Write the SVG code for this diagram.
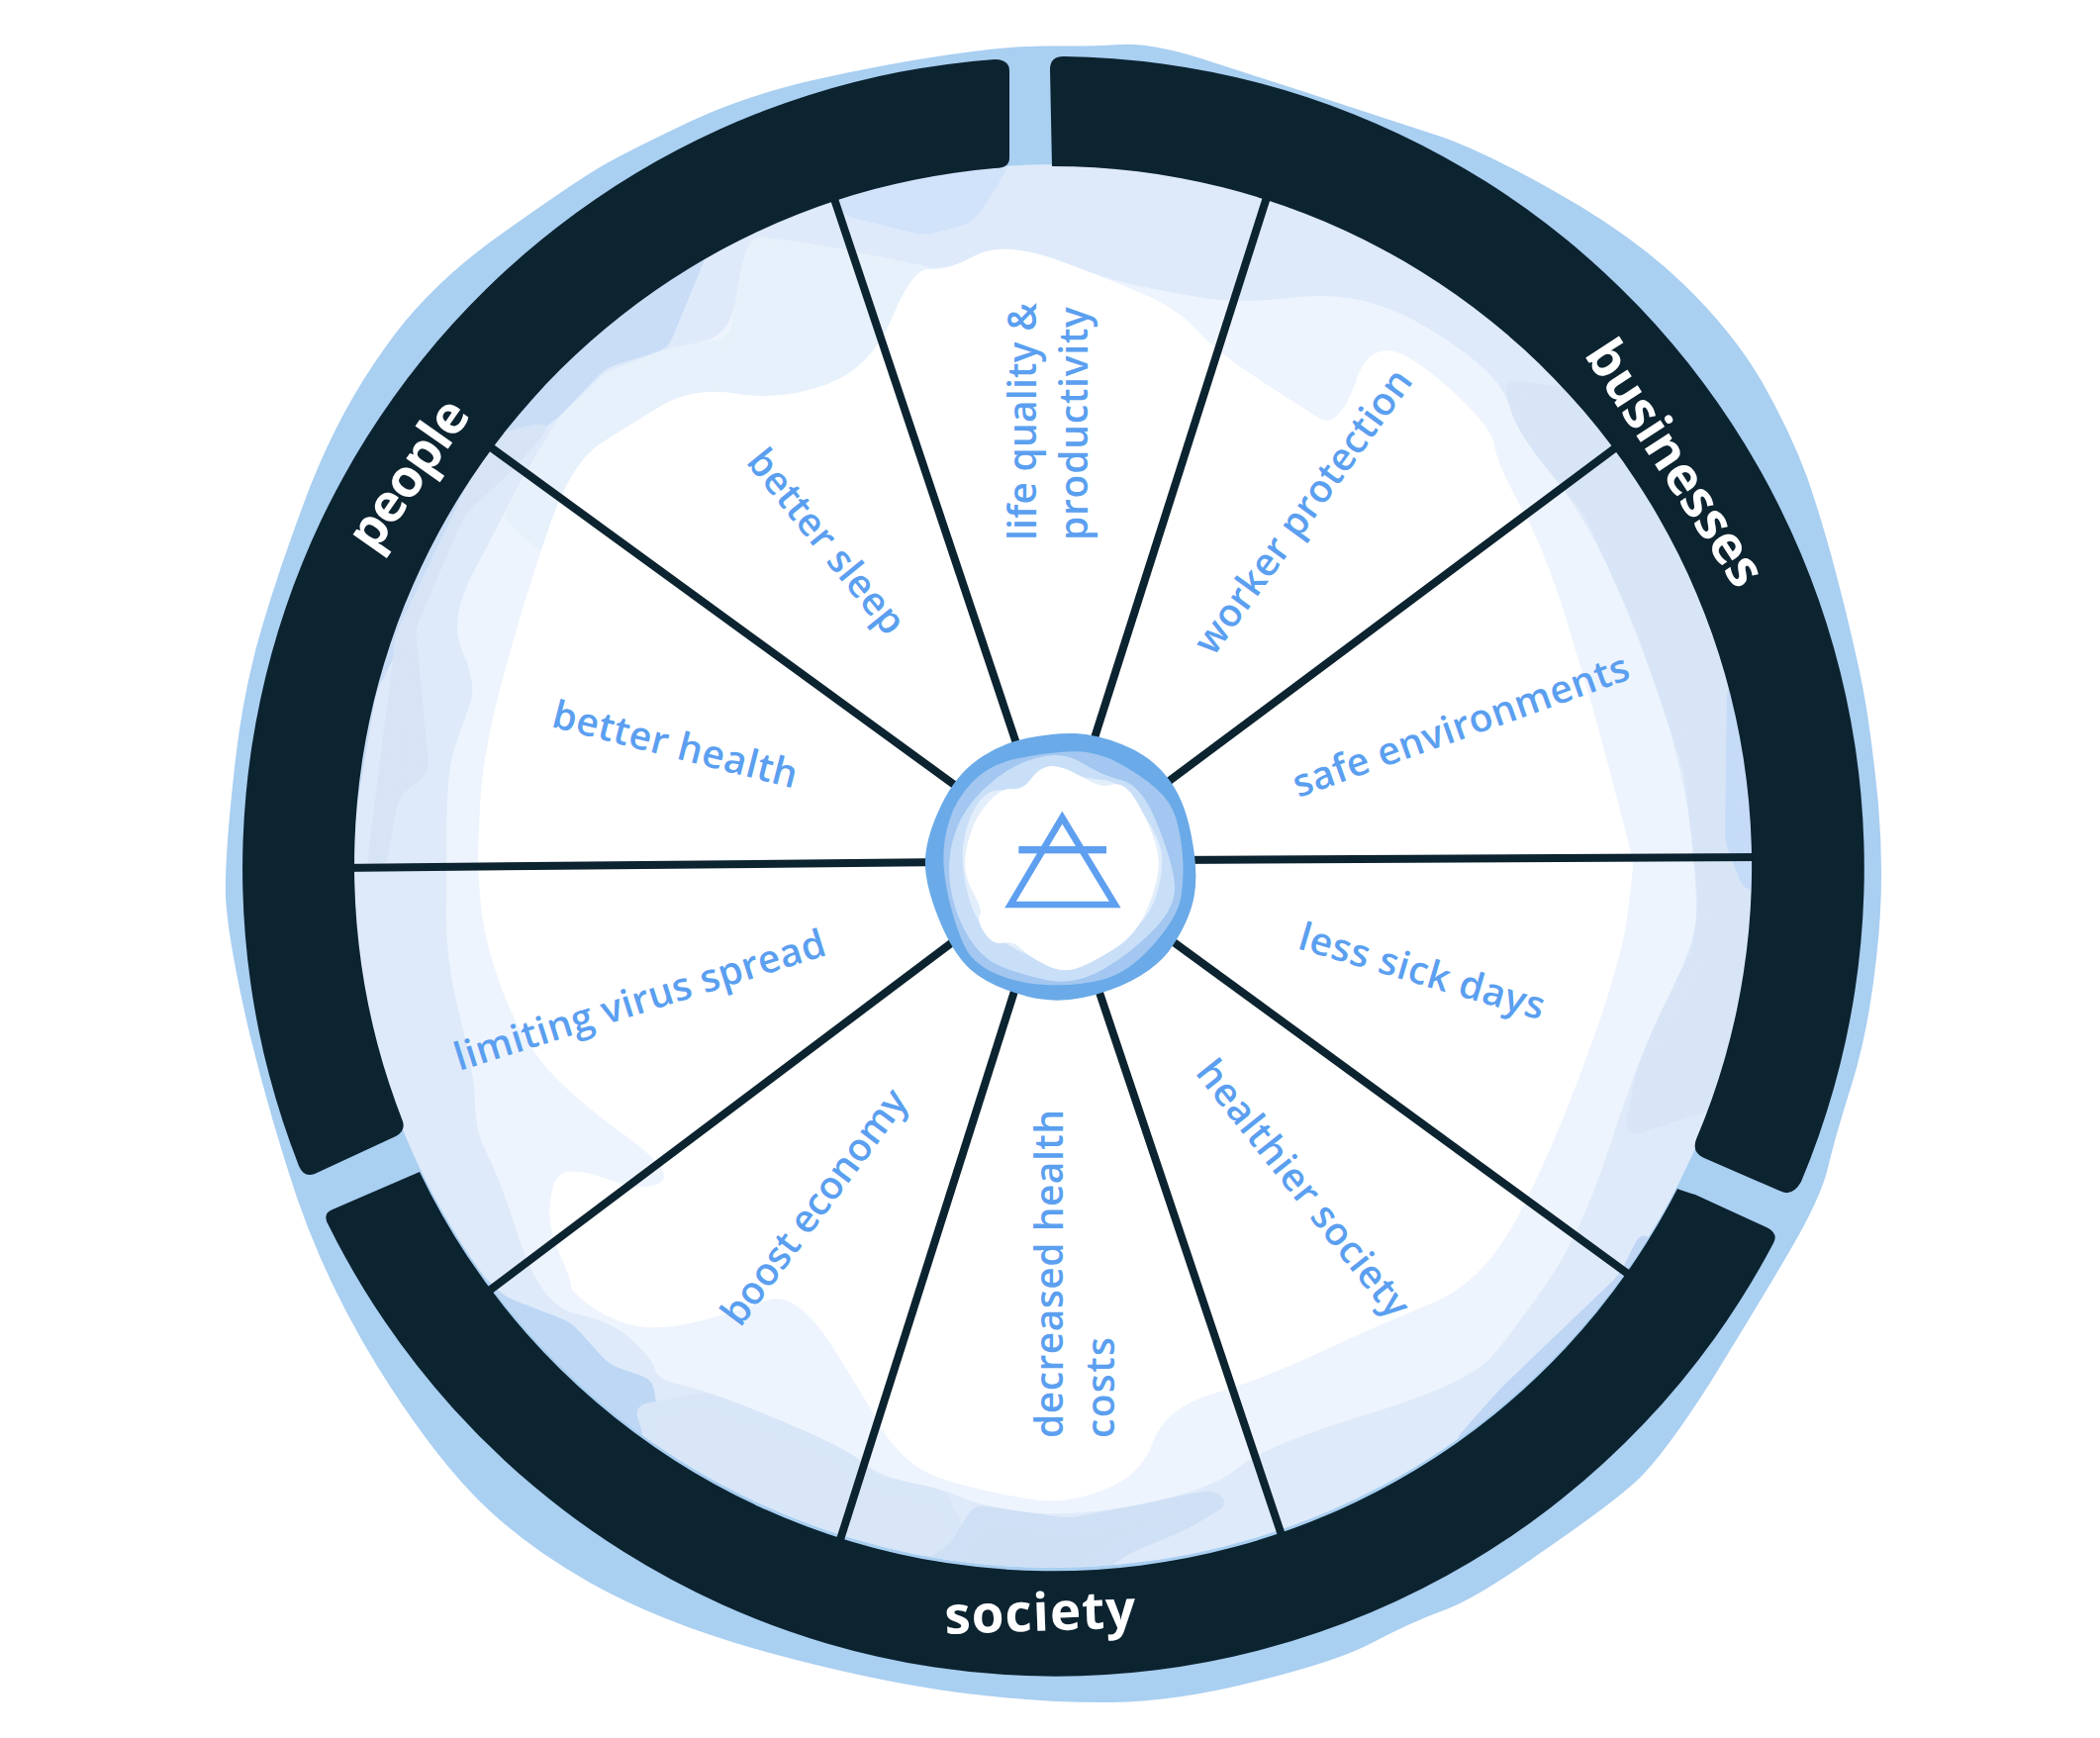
<svg xmlns="http://www.w3.org/2000/svg" width="2122" height="1756" viewBox="0 0 2122 1756">
<style>
.ring{fill:#0c2330}
.sp{stroke:#0c2330;stroke-width:8;fill:none}
text{font-family:"Open Sans","Noto Sans",sans-serif}
.lb{fill:#5b9ff0;font-size:39px;font-weight:650}
.wt{fill:#fff;font-size:53px;font-weight:680}
.p{filter:url(#sm)}
</style>
<defs>
<filter id="sm" x="-20%" y="-20%" width="140%" height="140%" color-interpolation-filters="sRGB"><feGaussianBlur stdDeviation="7"/><feComponentTransfer><feFuncA type="linear" slope="20" intercept="-9.5"/></feComponentTransfer></filter>
<clipPath id="disc"><circle cx="1064" cy="875" r="709"/></clipPath>
</defs>
<g id="backdrop">
<path fill="#a9cff1" d="M957,55.5Q1021,46 1060,46.5Q1100,47 1132,45Q1164,43 1218,60.5Q1272,78 1340,100Q1407,122 1450,136Q1494,150 1572,194Q1649,237 1700,286Q1750,334 1780,385Q1809,436 1826,482Q1842,528 1857,586Q1872,644 1881,688Q1890,732 1898,812Q1905,893 1896,968Q1888,1042 1871,1096Q1854,1150 1847,1180Q1840,1210 1809,1263Q1778,1316 1730,1394Q1681,1471 1654,1496Q1628,1520 1558,1568Q1489,1617 1456,1628Q1424,1640 1388,1659Q1353,1678 1272,1698Q1191,1719 1124,1720Q1056,1721 968,1710Q880,1698 774,1669Q669,1640 596,1599Q524,1558 478,1510Q432,1462 381,1380Q330,1297 300,1210Q271,1123 250,1035Q230,947 228,906Q227,866 236,785Q244,704 264,636Q284,568 314,490Q345,412 390,350Q434,287 510,234Q586,180 613,165Q640,150 699,122Q758,95 826,80Q893,65 957,55.5Z"/>
</g>
<g id="wash" clip-path="url(#disc)">
<rect x="340" y="150" width="1450" height="1450" fill="#deeafa"/>
<polygon class="p" fill="#c9ddf6" points="735,190 711,265 675,352 612,372 563,423 495,470 380,700 350,880 300,880 300,500 600,200"/>
<polygon class="p" fill="#d7e4f6" points="389,880 403,805 434,780 420,635 470,520 523,470 563,423 495,440 400,640 370,880"/>
<polygon class="p" fill="#d1e3fa" points="800,150 853,218 934,238 983,225 1013,180 1025,150"/>
<polygon class="p" fill="#d8e5f7" points="1518,383 1532,436 1600,518 1653,635 1702,780 1716,910 1710,958 1657,1064 1640,1150 1800,1100 1800,600 1650,400"/>
<polygon class="p" fill="#c5dbf7" points="1745,690 1743,850 1762,900 1800,900 1800,690"/>
<polygon class="p" fill="#bfd6f4" points="1660,1240 1637,1287 1516,1403 1468,1457 1500,1500 1700,1300"/>
<polygon class="p" fill="#bdd7f4" points="480,1280 510,1310 577,1336 616,1379 660,1394 664,1428 652,1450 560,1460 460,1340"/>
<polygon class="p" fill="#d8e6f8" points="640,1420 718,1406 853,1462 887,1491 955,1505 1000,1600 700,1600"/>
<polygon class="p" fill="#cfe0f5" points="984,1520 1080,1534 1225,1505 1245,1518 1200,1545 1140,1570 1100,1600 900,1600 960,1560"/>
<path fill="#eef4fd" d="M451.5,829Q452,778 459,757Q466,736 474,714Q483,693 468,660Q452,626 480,575Q507,524 515,508Q523,492 543,458Q563,423 588,400Q612,376 644,364Q675,352 706,346Q737,341 743,305Q749,269 754,254Q760,238 804,244Q849,251 887,259Q925,267 940,270Q956,274 986,258Q1015,243 1072,264Q1130,286 1156,290Q1181,295 1216,301Q1251,307 1302,301Q1353,295 1392,308Q1430,320 1474,352Q1518,383 1525,410Q1532,436 1566,477Q1600,518 1626,576Q1653,635 1678,708Q1702,780 1709,845Q1716,910 1713,934Q1710,958 1684,1011Q1657,1064 1628,1154Q1599,1243 1566,1292Q1533,1340 1508,1370Q1482,1399 1378,1430Q1274,1462 1250,1484Q1225,1505 1152,1520Q1080,1534 1032,1527Q984,1520 970,1512Q955,1505 921,1498Q887,1491 870,1476Q853,1462 786,1434Q718,1406 691,1400Q664,1394 662,1384Q660,1374 640,1355Q621,1336 584,1328Q548,1321 526,1256Q505,1190 492,1166Q480,1142 480,1115Q480,1088 466,1032Q451,977 451,928Q451,880 451.5,829Z"/>
<polygon class="p" fill="#e6f1fb" points="563,423 612,376 675,352 737,341 749,269 760,238 849,251 925,267 956,274 980,300 900,400 700,450 550,560 507,524"/>
<path fill="#fff" d="M485,815Q487,760 512,671Q537,582 558,524Q579,466 607,448Q635,430 668,410Q702,390 746,398Q791,405 836,388Q880,372 902,320Q923,269 940,272Q956,274 986,258Q1015,243 1072,264Q1130,286 1162,300Q1193,315 1210,334Q1227,354 1276,386Q1324,417 1334,423Q1343,429 1353,418Q1363,407 1372,380Q1382,354 1402,354Q1421,354 1464,392Q1508,431 1510,450Q1513,470 1540,518Q1566,567 1590,650Q1615,732 1632,800Q1650,867 1650,874Q1650,880 1644,928Q1637,977 1601,1074Q1565,1171 1531,1234Q1497,1297 1444,1318Q1390,1340 1332,1367Q1274,1394 1226,1408Q1177,1423 1165,1457Q1153,1491 1116,1505Q1080,1520 1044,1515Q1009,1510 972,1500Q936,1491 919,1476Q902,1462 892,1445Q883,1428 844,1365Q805,1302 774,1314Q742,1326 706,1335Q669,1344 645,1340Q621,1336 599,1321Q577,1306 577,1299Q577,1292 565,1266Q553,1239 556,1214Q558,1190 570,1185Q582,1180 616,1192Q650,1205 667,1195Q684,1185 630,1146Q577,1108 550,1076Q524,1045 507,999Q490,953 486,916Q483,880 483,871Q483,860 485,815Z"/>
</g>
<g id="connectors" class="sp">
<line x1="840" y1="192" x2="1040" y2="790"/>
<line x1="1283" y1="190" x2="1095" y2="780"/>
<line x1="1645" y1="443" x2="1160" y2="805"/>
<line x1="1790" y1="866" x2="1180" y2="869"/>
<line x1="1660" y1="1298" x2="1160" y2="933"/>
<line x1="1298" y1="1560" x2="1100" y2="970"/>
<line x1="846" y1="1565" x2="1035" y2="970"/>
<line x1="485" y1="1311" x2="985" y2="935"/>
<line x1="340" y1="877" x2="960" y2="871"/>
<line x1="485" y1="444" x2="985" y2="808"/>
</g>
<g id="people"><path class="ring" d="M1020,72Q1020,60 1005,60A820,820 0 0 0 302,1178Q307,1190 318,1186L400,1148Q410,1143 407,1133A707,707 0 0 1 1005,170Q1020,170 1020,160Z"/><text class="wt" transform="translate(378,560) rotate(-55)" textLength="172">people</text></g>
<g id="businesses"><path class="ring" d="M1061,70Q1061,57 1075,57A820,820 0 0 1 1820,1194Q1811,1210 1798,1203L1722,1170Q1709,1164 1714,1151A707,707 0 0 0 1063,168Z"/><text class="wt" transform="translate(1600,358) rotate(57)" textLength="285">businesses</text></g>
<g id="society"><path class="ring" d="M424,1184A709,709 0 0 0 1695,1201Q1700,1203 1713,1207L1787,1241Q1797,1247 1792,1256A820,820 0 0 1 332,1238Q325,1226 336,1222Z"/><text class="wt" transform="translate(955,1651) rotate(-2)" textLength="193">society</text></g>
<g id="hub">
<g transform="translate(900,700) scale(0.33333)">
<path fill="#6aaae8" transform="translate(515,535) scale(1.012) translate(-515,-535)" d="M415,142Q500,125 560,128Q620,130 700,161Q780,192 832,256Q885,320 906,430Q928,540 916,610Q905,680 852,762Q800,845 665,896Q530,946 415,916Q300,885 245,835Q190,785 148,678Q105,570 110,500Q115,430 158,342Q200,255 265,208Q330,160 415,142Z"/>
<path fill="#a3c7f0" d="M390,198Q480,180 550,178Q620,175 690,212Q760,250 805,290Q850,330 865,380Q880,430 885,495Q890,560 880,620Q870,680 795,765Q720,850 640,870Q560,890 470,885Q380,880 315,850Q250,820 225,770Q200,720 180,640Q160,560 160,500Q160,440 180,380Q200,320 250,268Q300,215 390,198Z"/>
<path fill="#c9dff8" d="M440,198Q520,175 580,212Q640,250 700,265Q760,280 805,390Q850,500 860,570Q870,640 805,710Q740,780 650,835Q560,890 470,870Q380,850 325,825Q270,800 230,730Q190,660 180,580Q170,500 195,425Q220,350 290,285Q360,220 440,198Z"/>
<path fill="#e3eefb" d="M340,294Q400,298 425,262Q450,225 525,242Q600,260 650,265Q700,270 755,350Q810,430 820,480Q830,530 805,615Q780,700 665,775Q550,850 475,820Q400,790 340,755Q280,720 255,670Q230,620 220,535Q210,450 245,370Q280,290 340,294Z"/>
<path fill="#fff" d="M370,292Q400,298 425,262Q450,225 485,222Q520,220 580,255Q640,290 665,280Q690,270 715,290Q740,310 775,385Q810,460 812,510Q815,560 782,645Q750,730 680,775Q610,820 565,835Q520,850 470,825Q420,800 395,775Q370,750 340,758Q310,765 285,728Q260,690 270,675Q280,660 252,610Q225,560 225,520Q225,480 242,425Q260,370 300,328Q340,285 370,292Z"/>
<polygon points="520,378 680,642 363,642" fill="none" stroke="#5e9ff0" stroke-width="20"/>
<rect x="388" y="465" width="266" height="22" fill="#5e9ff0"/>
</g>
</g>
<g id="life-quality"><text class="lb" transform="translate(1047,546) rotate(-90)" textLength="240">life quality &amp;</text><text class="lb" transform="translate(1099,546) rotate(-90)" textLength="236">productivity</text></g>
<g id="better-sleep"><text class="lb" transform="translate(753,467) rotate(51)" textLength="228">better sleep</text></g>
<g id="better-health"><text class="lb" transform="translate(556,734) rotate(14.3)" textLength="254">better health</text></g>
<g id="worker-protection"><text class="lb" transform="translate(1226,664) rotate(-54)" textLength="345">worker protection</text></g>
<g id="safe-environments"><text class="lb" transform="translate(1312,806) rotate(-19.7)" textLength="358">safe environments</text></g>
<g id="less-sick-days"><text class="lb" transform="translate(1310,958) rotate(16.4)" textLength="257">less sick days</text></g>
<g id="healthier-society"><text class="lb" transform="translate(1207,1084) rotate(51.5)" textLength="320">healthier society</text></g>
<g id="decreased-health"><text class="lb" transform="translate(1074,1453) rotate(-90)" textLength="332">decreased health</text><text class="lb" transform="translate(1126,1453) rotate(-90)" textLength="102">costs</text></g>
<g id="boost-economy"><text class="lb" transform="translate(748,1342) rotate(-53.3)" textLength="286">boost economy</text></g>
<g id="limiting-virus"><text class="lb" transform="translate(464,1082) rotate(-17.5)" textLength="391">limiting virus spread</text></g>
</svg>
